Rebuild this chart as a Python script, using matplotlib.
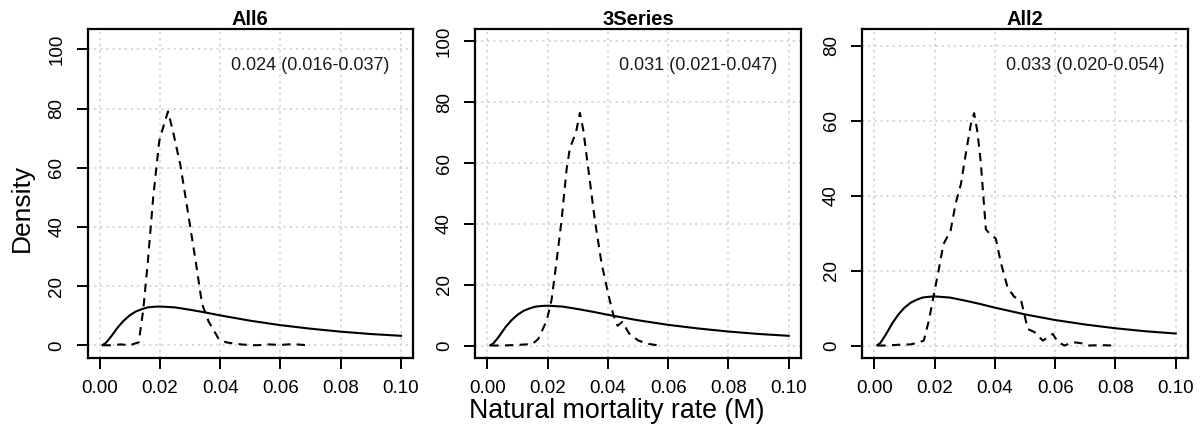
import matplotlib
matplotlib.use('Agg')
import matplotlib.pyplot as plt
import matplotlib.transforms as mtransforms

plt.rcParams['font.family'] = ['Liberation Sans', 'DejaVu Sans']

# prior density (solid line), same in every panel
prior_x = [0.001, 0.002, 0.003, 0.004, 0.005, 0.006, 0.008, 0.010, 0.012, 0.014,
           0.016, 0.018, 0.020, 0.025, 0.030, 0.035, 0.040, 0.045, 0.050, 0.060,
           0.070, 0.080, 0.090, 0.100]
prior_y = [0.1, 0.7, 1.9, 3.2, 4.6, 6.0, 8.3, 10.1, 11.4, 12.2,
           12.8, 13.0, 13.1, 12.8, 12.0, 11.1, 10.1, 9.2, 8.3, 6.8,
           5.6, 4.6, 3.8, 3.2]

# posterior densities (dashed lines)
all6_x = [0.001, 0.004, 0.007, 0.010, 0.0130, 0.0145, 0.0160, 0.0178, 0.0198, 0.0212,
          0.0227, 0.0242, 0.0268, 0.0290, 0.0318, 0.0340, 0.0362, 0.0395, 0.0420, 0.0450,
          0.0480, 0.0520, 0.0560, 0.0600, 0.0640, 0.0680, 0.0700]
all6_y = [0, 0, 0.3, 0, 1.0, 12, 28, 50, 69, 74,
          79, 73, 61, 47, 29, 14, 8, 2.2, 1.0, 0.5,
          0.2, 0, 0.3, 0.1, 0.4, 0.1, 0]

s3_x = [0.001, 0.005, 0.010, 0.015, 0.0169, 0.0197, 0.0213, 0.0230, 0.0246, 0.0263,
        0.0274, 0.0294, 0.0307, 0.0318, 0.0335, 0.0357, 0.0379, 0.0401, 0.0418, 0.0432,
        0.0448, 0.0470, 0.0500, 0.0530, 0.0570]
s3_y = [0, 0, 0.2, 0.5, 2.2, 8.2, 15, 28, 41, 58,
        65, 70, 76.5, 71, 58, 41, 27, 17, 10, 6.5,
        7.8, 4.0, 1.7, 0.6, 0]

all2_x = [0.001, 0.004, 0.008, 0.012, 0.0137, 0.0164, 0.0181, 0.0198, 0.0214, 0.0229,
          0.0253, 0.0270, 0.0287, 0.0303, 0.0320, 0.0331, 0.0342, 0.0353, 0.0370, 0.0381,
          0.0403, 0.0420, 0.0442, 0.0464, 0.0487, 0.0509, 0.0531, 0.0559, 0.0592, 0.0609,
          0.0631, 0.0659, 0.0687, 0.0709, 0.0753, 0.0792]
all2_y = [0, 0, 0.2, 0.3, 0.6, 1.3, 6.7, 13.8, 20.4, 27,
          30.7, 38, 43, 51, 59, 62, 57, 49, 31, 30,
          28.5, 22, 15.5, 13, 12, 4.4, 3.6, 1.3, 3.1, 0.9,
          0, 0.9, 0.6, 0, 0.1, 0]

titles = ['All6', '3Series', 'All2']
posteriors = [(all6_x, all6_y), (s3_x, s3_y), (all2_x, all2_y)]
labels = ['0.024 (0.016-0.037)', '0.031 (0.021-0.047)', '0.033 (0.020-0.054)']
ylims = [(-4.2, 106.8), (-4.0, 104.0), (-3.25, 84.4)]
yticks = [[0, 20, 40, 60, 80, 100], [0, 20, 40, 60, 80, 100], [0, 20, 40, 60, 80]]
xticks = [0.00, 0.02, 0.04, 0.06, 0.08, 0.10]

W, H = 1204, 434
fig = plt.figure(figsize=(W / 100, H / 100), dpi=100)

lefts = [87.5, 475.3, 862.3]
for i in range(3):
    l = lefts[i]
    ax = fig.add_axes([l / W, 1 - 357.7 / H, 325.5 / W, (357.7 - 29.2) / H])
    ax.set_xlim(-0.004, 0.104)
    ax.set_ylim(*ylims[i])
    ax.set_xticks(xticks)
    ax.set_xticklabels([f'{t:.2f}' for t in xticks])
    ax.set_yticks(yticks[i])
    ax.set_yticklabels([str(t) for t in yticks[i]], rotation=90, va='center')
    ax.grid(True, color='#cfcfcf', linestyle=(0, (1.5, 2.5)), linewidth=1.1)
    ax.set_axisbelow(True)
    ax.tick_params(length=8, width=1.4, labelsize=13.5, pad=8)
    for sp in ax.spines.values():
        sp.set_linewidth(1.6)

    ax.plot(prior_x, prior_y, color='black', linewidth=1.5)
    px, py = posteriors[i]
    ax.plot(px, py, color='black', linewidth=1.5, linestyle=(0, (4, 3)))

    ax.set_title(titles[i], fontsize=14.5, fontweight='bold', pad=2)
    trans = mtransforms.blended_transform_factory(ax.transData, ax.transAxes)
    ax.text(0.07, 0.89, labels[i], transform=trans, ha='center', va='center',
            fontsize=13, color='#1a1a1a')

fig.text(22 / W, 1 - 208 / H, 'Density', rotation=90, ha='center', va='center',
         fontsize=19)
fig.text(616.5 / W, 1 - 411 / H, 'Natural mortality rate (M)', ha='center',
         va='center', fontsize=19.3)

fig.savefig('out.png', dpi=100)
